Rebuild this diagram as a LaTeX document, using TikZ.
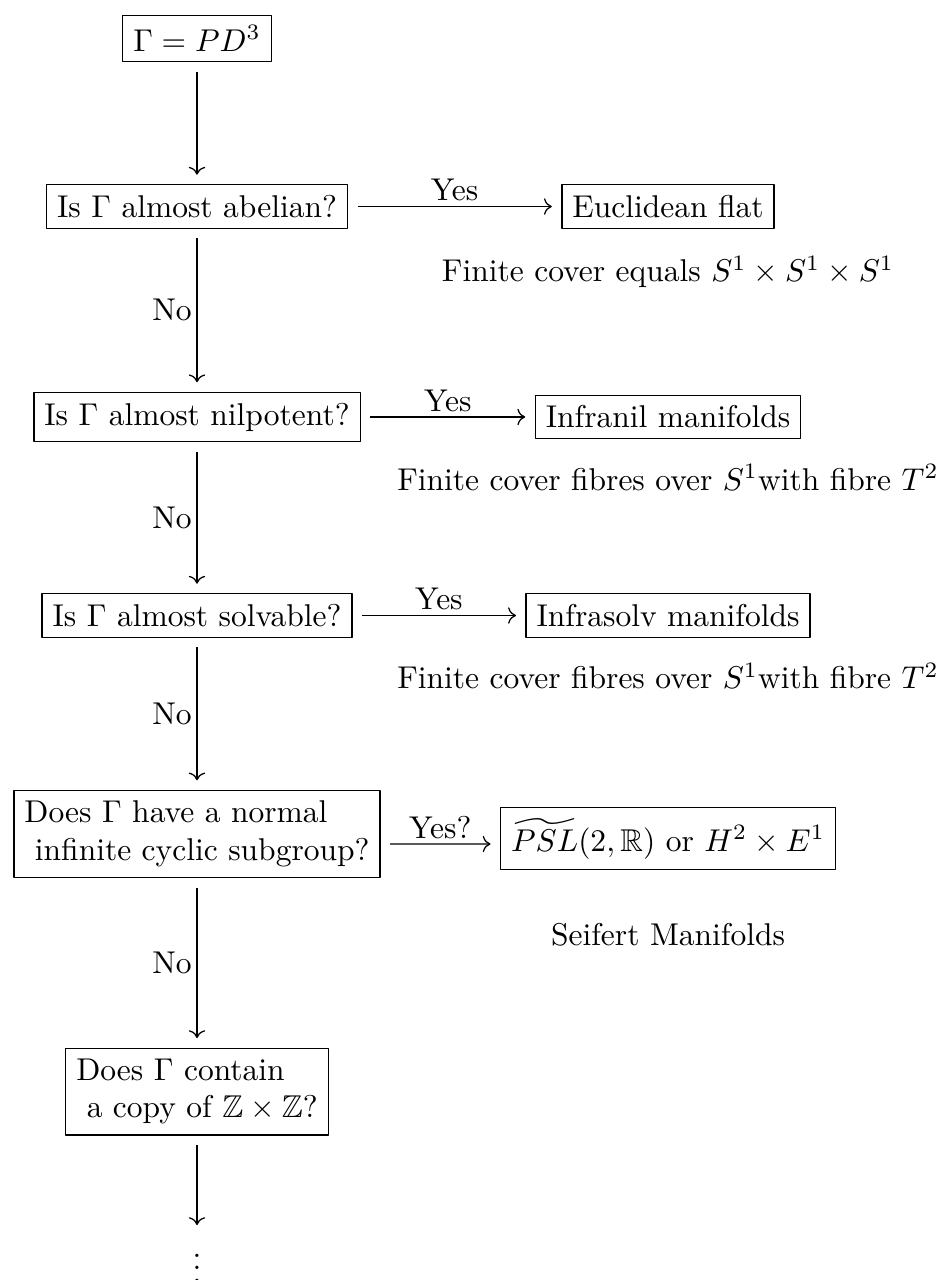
\documentclass[tikz,border=0pt]{standalone}
\usepackage{amssymb}
\usetikzlibrary{cd}
\begin{document}
\begin{tikzpicture}[>=cm to,line join=round,
	hop/.style={draw,inner sep=3.33pt},
	chu/.style={anchor=base,inner sep=0pt},
	mui/.style={->,shorten <=3pt,shorten >=3pt},
	nhan/.style={midway,inner sep=1.5pt}]
	\useasboundingbox (0,0) rectangle (10.532,-14.281);
	\def\xa{2.198}
	\def\xb{7.453}
	% Cột trái
	\node[hop] (goc) at (\xa,-0.430) {$\Gamma=PD^3$};
	\node[hop] (abel) at (\xa,-2.304) {Is $\Gamma$ almost abelian?};
	\node[hop] (nil) at (\xa,-4.652) {Is $\Gamma$ almost nilpotent?};
	\node[hop] (solv) at (\xa,-6.867) {Is $\Gamma$ almost solvable?};
	\node[hop,align=left] (cyc) at (\xa,-9.305) {Does $\Gamma$ have a normal\\\mbox{} infinite cyclic subgroup?};
	\node[hop,align=left] (zz) at (\xa,-12.178) {Does $\Gamma$ contain\\\mbox{} a copy of $\mathbb{Z}\times\mathbb{Z}$?};
	\node[anchor=north,inner sep=0pt] (cham) at (\xa,-13.773) {$\vdots$};
	% Cột phải
	\node[hop] (flat) at (\xb,-2.304) {Euclidean flat};
	\node[chu] (ghi1) at (\xb,-3.146) {Finite cover equals $S^1\times S^1\times S^1$};
	\node[hop] (infnil) at (\xb,-4.652) {Infranil manifolds};
	\node[chu] (ghi2) at (\xb,-5.467) {Finite cover fibres over $S^1$with fibre $T^2$};
	\node[hop] (infsolv) at (\xb,-6.867) {Infrasolv manifolds};
	\node[chu] (ghi3) at (\xb,-7.687) {Finite cover fibres over $S^1$with fibre $T^2$};
	\node[hop] (psl) at (\xb,-9.355) {$\widetilde{PSL}(2,\mathbb{R})$ or $H^2\times E^1$};
	\node[chu] (ghi4) at (\xb,-10.554) {Seifert Manifolds};
	% Mũi tên dọc
	\draw[mui] (goc) -- (abel);
	\draw[mui] (abel) -- (nil) node[nhan,left] (no1) {No};
	\draw[mui] (nil) -- (solv) node[nhan,left] (no2) {No};
	\draw[mui] (solv) -- (cyc) node[nhan,left] (no3) {No};
	\draw[mui] (cyc) -- (zz) node[nhan,left] (no4) {No};
	\draw[mui] (zz) -- (cham);
	% Mũi tên ngang
	\draw[mui] (abel) -- (flat) node[nhan,above] (yes1) {Yes};
	\draw[mui] (nil) -- (infnil) node[nhan,above] (yes2) {Yes};
	\draw[mui] (solv) -- (infsolv) node[nhan,above] (yes3) {Yes};
	\draw[mui] ([yshift=-3.17pt]cyc.east) -- ([yshift=-1.75pt]psl.west) node[nhan,above] (yes4) {Yes?};
\end{tikzpicture}
\end{document}
